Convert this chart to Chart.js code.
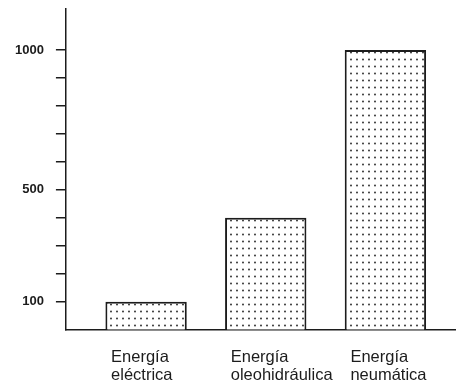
<!DOCTYPE html>
<html>
<head>
<meta charset="utf-8">
<script src="https://cdn.jsdelivr.net/npm/chart.js@4/dist/chart.umd.min.js"></script>
<style>
html,body{margin:0;padding:0;background:#fff;}
canvas{display:block;}
</style>
</head>
<body>
<canvas id="c" width="456" height="385"></canvas>
<script>
// ---- data ----
const categories = [["Energía", "eléctrica"], ["Energía", "oleohidráulica"], ["Energía", "neumática"]];
const positions = [1, 2, 3];
const values = [100, 400, 1000];
const yTicks = [100, 200, 300, 400, 500, 600, 700, 800, 900, 1000];
const yLabeled = [100, 500, 1000];

// ---- dotted fill pattern ----
const canvas = document.getElementById('c');
const ctx = canvas.getContext('2d');
function dotPattern() {
  const t = document.createElement('canvas');
  t.width = 6; t.height = 7;
  const g = t.getContext('2d');
  g.fillStyle = '#ffffff';
  g.fillRect(0, 0, 6, 7);
  g.fillStyle = '#222222';
  g.beginPath();
  g.arc(3, 3.5, 0.9, 0, Math.PI * 2);
  g.fill();
  return ctx.createPattern(t, 'repeat');
}

const FONT = "'Liberation Sans', Arial, Helvetica, sans-serif";
const INK = '#1c1c1c';

new Chart(ctx, {
  type: 'bar',
  data: {
    datasets: [{
      data: positions.map((x, i) => ({ x: x, y: values[i] })),
      backgroundColor: dotPattern(),
      borderColor: INK,
      borderWidth: 2,
      barPercentage: 0.68,
      categoryPercentage: 1
    }]
  },
  options: {
    responsive: false,
    animation: false,
    events: [],
    layout: { padding: { left: 15, top: 9, right: 0, bottom: 0 } },
    plugins: { legend: { display: false }, tooltip: { enabled: false }, title: { display: false } },
    scales: {
      x: {
        type: 'linear',
        min: 0.33,
        max: 3.59,
        offset: false,
        afterBuildTicks: s => { s.ticks = positions.map(v => ({ value: v })); },
        afterFit: s => { s.paddingLeft = 0; s.paddingRight = 0; s.height -= s.options.ticks.padding; },
        ticks: {
          autoSkip: false,
          maxRotation: 0,
          minRotation: 0,
          align: 'start',
          labelOffset: -35,
          padding: 19,
          color: INK,
          font: { family: FONT, size: 16.5, lineHeight: 1.1 },
          callback: v => categories[positions.indexOf(v)] || ''
        },
        grid: { display: false, drawOnChartArea: false, drawTicks: false },
        border: { display: true, color: INK, width: 1.5 }
      },
      y: {
        type: 'linear',
        min: 0,
        max: 1147,
        afterBuildTicks: s => { s.ticks = yTicks.map(v => ({ value: v })); },
        afterFit: s => { s.paddingTop = 0; s.paddingBottom = 0; s.width -= s.options.ticks.padding; },
        ticks: {
          autoSkip: false,
          padding: 12,
          color: INK,
          font: { family: FONT, size: 13, weight: 'bold' },
          callback: v => yLabeled.includes(v) ? String(v) : ''
        },
        grid: { display: true, drawOnChartArea: false, drawTicks: true, tickLength: 10, color: INK, lineWidth: 1.5 },
        border: { display: true, color: INK, width: 1.5 }
      }
    }
  }
});
</script>
</body>
</html>
